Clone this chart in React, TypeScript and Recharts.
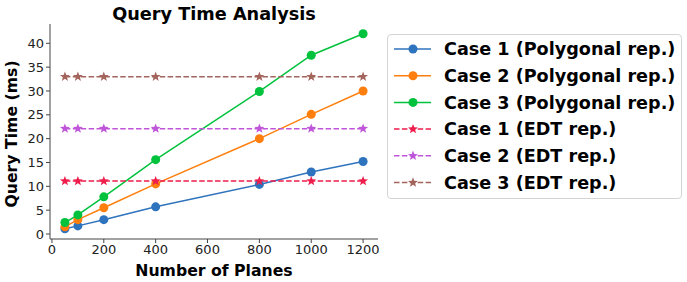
import { LineChart, Line, XAxis, YAxis } from 'recharts';

const planes = [50, 100, 200, 400, 800, 1000, 1200];
const case1Poly = [1.1, 1.7, 3.0, 5.7, 10.4, 13.0, 15.2];
const case2Poly = [1.5, 3.0, 5.5, 10.5, 20.0, 25.1, 30.0];
const case3Poly = [2.4, 4.0, 7.8, 15.6, 29.9, 37.5, 42.0];
const case1Edt = [11.1, 11.1, 11.1, 11.1, 11.1, 11.1, 11.1];
const case2Edt = [22.1, 22.1, 22.1, 22.1, 22.1, 22.1, 22.1];
const case3Edt = [33.0, 33.0, 33.0, 33.0, 33.0, 33.0, 33.0];
const xTicks = [0, 200, 400, 600, 800, 1000, 1200];
const yTicks = [0, 5, 10, 15, 20, 25, 30, 35, 40];

const series = [
  { key: 'c1p', name: 'Case 1 (Polygonal rep.)', values: case1Poly, color: '#2e73bd', dashed: false },
  { key: 'c2p', name: 'Case 2 (Polygonal rep.)', values: case2Poly, color: '#ff7f0e', dashed: false },
  { key: 'c3p', name: 'Case 3 (Polygonal rep.)', values: case3Poly, color: '#00c23c', dashed: false },
  { key: 'c1e', name: 'Case 1 (EDT rep.)', values: case1Edt, color: '#ee1d4b', dashed: true },
  { key: 'c2e', name: 'Case 2 (EDT rep.)', values: case2Edt, color: '#bf55d9', dashed: true },
  { key: 'c3e', name: 'Case 3 (EDT rep.)', values: case3Edt, color: '#a3645c', dashed: true },
];

const data = planes.map((p, i) => {
  const row: Record<string, number> = { planes: p };
  series.forEach((s) => (row[s.key] = s.values[i]));
  return row;
});

const FONT = '"DejaVu Sans", sans-serif';

function starPath(cx: number, cy: number, r: number) {
  const pts: string[] = [];
  for (let i = 0; i < 10; i++) {
    const rad = i % 2 === 0 ? r : r * 0.42;
    const a = -Math.PI / 2 + (i * Math.PI) / 5;
    pts.push(`${(cx + rad * Math.cos(a)).toFixed(2)},${(cy + rad * Math.sin(a)).toFixed(2)}`);
  }
  return 'M' + pts.join('L') + 'Z';
}

const makeDot = (color: string, star: boolean) => (props: any) => {
  const { cx, cy, index } = props;
  if (cx == null || cy == null) return <g key={index} />;
  if (star) return <path key={index} d={starPath(cx, cy, 5.2)} fill={color} />;
  return <circle key={index} cx={cx} cy={cy} r={4.5} fill={color} />;
};

function LegendBox() {
  return (
    <div
      style={{
        position: 'absolute',
        left: 387,
        top: 34,
        width: 295,
        height: 165,
        border: '1px solid #d4d4d4',
        borderRadius: 4,
        background: '#fff',
        boxSizing: 'border-box',
      }}
    >
      <svg width={295} height={165} style={{ display: 'block' }}>
        {series.map((s, i) => {
          const y = 14 + i * 26.7;
          return (
            <g key={s.key}>
              <line
                x1={6}
                x2={43}
                y1={y}
                y2={y}
                stroke={s.color}
                strokeWidth={1.5}
                strokeDasharray={s.dashed ? '5.5 2.4' : undefined}
              />
              {s.dashed ? (
                <path d={starPath(25, y, 5.2)} fill={s.color} />
              ) : (
                <circle cx={25} cy={y} r={4.5} fill={s.color} />
              )}
              <text x={56} y={y + 6.3} fontFamily={FONT} fontWeight="bold" fontSize={17.6} fill="#000">
                {s.name}
              </text>
            </g>
          );
        })}
      </svg>
    </div>
  );
}

function Texts() {
  return (
    <svg width={687} height={282} style={{ position: 'absolute', left: 0, top: 0, pointerEvents: 'none' }}>
      <text x={214} y={20} textAnchor="middle" fontFamily={FONT} fontWeight="bold" fontSize={17.7} fill="#000">
        Query Time Analysis
      </text>
      <text x={214} y={276} textAnchor="middle" fontFamily={FONT} fontWeight="bold" fontSize={15.7} fill="#000">
        Number of Planes
      </text>
      <text
        x={17}
        y={134}
        textAnchor="middle"
        transform="rotate(-90 17 134)"
        fontFamily={FONT}
        fontWeight="bold"
        fontSize={15.7}
        fill="#000"
      >
        Query Time (ms)
      </text>
    </svg>
  );
}

export default function App() {
  return (
    <div style={{ position: 'absolute', left: 0, top: 0, width: 687, height: 282, background: '#fff' }}>
      <LineChart width={687} height={282} data={data} margin={{ top: 24, right: 309, bottom: 13, left: 10 }}>
        <XAxis
          dataKey="planes"
          type="number"
          domain={[-7.5, 1257.5]}
          ticks={xTicks}
          allowDataOverflow
          height={30}
          stroke="#444"
          tickSize={4}
          tick={{ fill: '#222', fontSize: 13, fontFamily: FONT }}
        />
        <XAxis xAxisId="top" orientation="top" dataKey="planes" type="number" domain={[-7.5, 1257.5]} height={0} tick={false} tickLine={false} stroke="#444" />
        <YAxis
          type="number"
          domain={[-1.05, 44.05]}
          ticks={yTicks}
          allowDataOverflow
          width={40}
          stroke="#444"
          tickSize={4}
          tick={{ fill: '#222', fontSize: 13, fontFamily: FONT }}
        />
        <YAxis yAxisId="right" orientation="right" domain={[-1.05, 44.05]} width={0} tick={false} tickLine={false} stroke="#444" />
        {series.map((s) => (
          <Line
            key={s.key}
            dataKey={s.key}
            name={s.name}
            type="linear"
            stroke={s.color}
            strokeWidth={1.5}
            strokeDasharray={s.dashed ? '5.5 2.4' : undefined}
            dot={makeDot(s.color, s.dashed)}
            activeDot={false}
            isAnimationActive={false}
          />
        ))}
      </LineChart>
      <Texts />
      <LegendBox />
    </div>
  );
}
